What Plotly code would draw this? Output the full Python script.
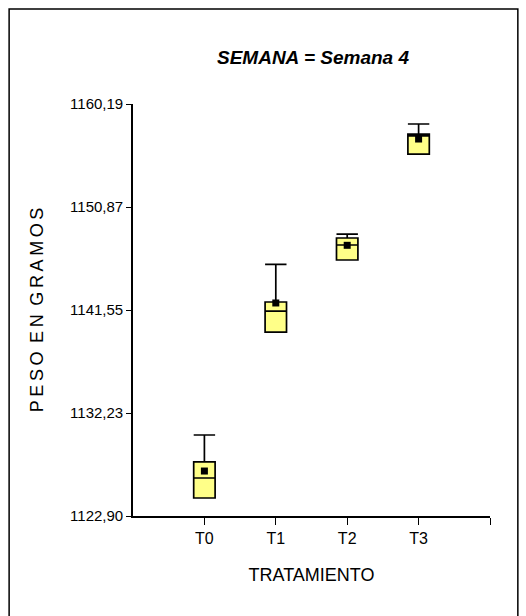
import plotly.graph_objects as go

categories = ["T0", "T1", "T2", "T3"]
q1_vals = [1124.53, 1139.55, 1146.07, 1155.66]
median_vals = [1126.34, 1141.45, 1147.43, 1157.30]
q3_vals = [1127.79, 1142.27, 1148.06, 1157.47]
lower_vals = [1124.53, 1139.55, 1146.07, 1155.66]
upper_vals = [1130.23, 1145.68, 1148.42, 1158.38]
mean_vals = [1126.97, 1142.18, 1147.40, 1157.02]
y_ticks = [1122.90, 1132.2225, 1141.545, 1150.8675, 1160.19]
y_tick_labels = ["1122,90", "1132,23", "1141,55", "1150,87", "1160,19"]

positions = [i + 1 for i in range(len(categories))]

fig = go.Figure()
fig.add_trace(go.Box(
    x=positions, q1=q1_vals, median=median_vals, q3=q3_vals,
    lowerfence=lower_vals, upperfence=upper_vals,
    width=0.3, whiskerwidth=1,
    fillcolor="#ffff88", line=dict(color="black", width=1.7),
    boxpoints=False, showlegend=False, hoverinfo="skip",
))
fig.add_trace(go.Scatter(
    x=positions, y=mean_vals, mode="markers",
    marker=dict(symbol="square", size=7, color="black"),
    showlegend=False,
))

font_main = "Liberation Sans Narrow, Liberation Sans, Arial, sans-serif"
ts = "\u2009"
ytitle = ts.join("PESO") + " " + ts + ts.join("EN") + " " + ts + ts.join("GRAMOS")

fig.update_layout(
    width=526, height=616,
    margin=dict(l=133, r=36, t=104, b=100),
    paper_bgcolor="white", plot_bgcolor="white",
    font=dict(family=font_main, color="black", size=14),
    title=dict(
        text="<b><i>SEMANA = Semana 4</i></b>",
        x=(313 / 526), xanchor="center", y=1 - 57 / 616, yanchor="middle",
        font=dict(size=19, family=font_main, color="black"),
    ),
    xaxis=dict(
        range=[0, 5], tickmode="array",
        tickvals=positions + [5], ticktext=categories + [""],
        showline=True, linecolor="black", linewidth=1.6,
        ticks="outside", ticklen=7, tickwidth=1.2, tickcolor="black",
        showgrid=False, zeroline=False,
        tickfont=dict(size=16, family=font_main),
        title=dict(text="TRATAMIENTO", font=dict(size=18, family=font_main), standoff=22),
    ),
    yaxis=dict(
        range=[1122.90, 1160.19], tickmode="array",
        tickvals=y_ticks, ticktext=y_tick_labels,
        showline=True, linecolor="black", linewidth=1.6,
        ticks="outside", ticklen=5, tickwidth=1.2, tickcolor="black",
        showgrid=False, zeroline=False,
        tickfont=dict(size=15, family=font_main),
        title=dict(text=ytitle, font=dict(size=18, family="Liberation Sans, Arial, sans-serif"), standoff=22),
    ),
    shapes=[dict(
        type="rect", xref="paper", yref="paper",
        x0=-0.347, x1=1.078, y0=-0.26, y1=1.2306,
        line=dict(color="black", width=1.5), layer="below",
    )],
)

fig.write_html("out.html")
